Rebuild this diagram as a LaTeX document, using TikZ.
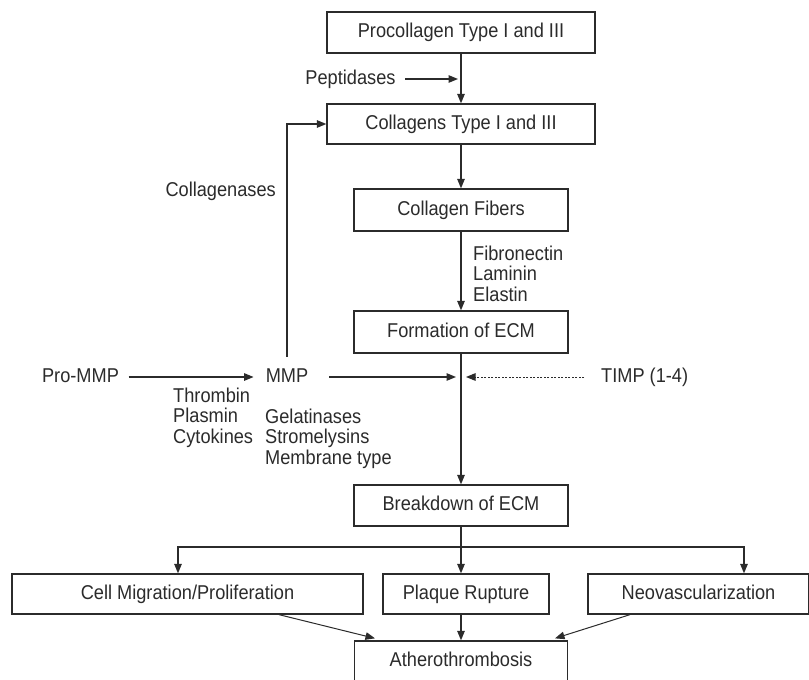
\documentclass[tikz,border=0pt]{standalone}
\usepackage{fontspec}
\setmainfont[FakeStretch=0.91]{Liberation Sans}
\usetikzlibrary{arrows.meta}
\definecolor{ink}{HTML}{2B2B2B}
\begin{document}
\begin{tikzpicture}[x=1pt,y=-1pt,
  every node/.style={text=ink, font=\fontsize{20}{20.5}\selectfont},
  box/.style={draw=ink, line width=1.3pt, inner sep=0pt, text height=14pt, text depth=4pt, minimum height=41pt},
  lbl/.style={inner sep=0pt, text height=14pt, text depth=4pt},
  multi/.style={inner sep=0pt, align=left, anchor=north west},
  conn/.style={draw=ink, line width=1.25pt},
  arr/.style={conn, -{Triangle[length=9.5pt,width=7.5pt]}},
  dotarr/.style={arr, line width=1pt, dash pattern=on 2pt off 1.5pt}
  ]
\fill[white] (0,0) rectangle (809,680);
\useasboundingbox (0,0) rectangle (809,680);

% boxes
\node[box, minimum width=268pt] (proc) at (461,32.5) {Procollagen Type I and III};
\node[box, minimum width=268pt, minimum height=40pt] (coll) at (461,124) {Collagens Type I and III};
\node[box, minimum width=214pt, minimum height=42pt] (fib) at (461,210) {Collagen Fibers};
\node[box, minimum width=214pt, minimum height=42pt] (form) at (461,332) {Formation of ECM};
\node[box, minimum width=214pt] (brk) at (461,505.5) {Breakdown of ECM};
\node[box, minimum width=351pt, minimum height=40pt] (cell) at (187.5,594) {Cell Migration/Proliferation};
\node[box, minimum width=166pt, minimum height=40pt] (plaq) at (466,594) {Plaque Rupture};
\node[box, minimum width=221pt, minimum height=40pt] (neo) at (698.5,594) {Neovascularization};
\node[box, minimum width=213pt] (ath) at (461,661.5) {Atherothrombosis};

% labels
\node[lbl] (pep) at (350.5,79) {Peptidases};
\node[lbl, anchor=east] (colg) at (276,191) {Collagenases};
\node[lbl] (pro) at (80.5,377) {Pro-MMP};
\node[lbl] (mmp) at (287,377) {MMP};
\node[lbl, anchor=west] (timp) at (601,377) {TIMP (1-4)};
\node[multi] (acts) at (173,387.5) {Thrombin\\Plasmin\\Cytokines};
\node[multi] (types) at (265,408.5) {Gelatinases\\Stromelysins\\Membrane type};
\node[multi] (ecm) at (473,245.5) {Fibronectin\\Laminin\\Elastin};

% junction points
\coordinate (pj) at (461,79);
\coordinate (jx) at (461,377);
\coordinate (split) at (461,547);

% connectors
\draw[arr] (proc) -- (coll);
\draw[arr, shorten <=9.5pt, shorten >=3pt] (pep) -- (pj);
\draw[arr] (coll) -- (fib);
\draw[arr] (fib) -- (form);
\draw[arr] (form) -- (brk);
\draw[arr] ([yshift=11pt]mmp.north) |- (coll.west);
\draw[arr, shorten <=9.5pt, shorten >=12pt] (pro) -- (mmp);
\draw[arr, shorten <=21pt, shorten >=5pt] (mmp) -- (jx);
\draw[dotarr, shorten <=17pt, shorten >=5pt] (timp) -- (jx);
\draw[conn] (brk) -- (split);
\draw[arr] (split) -| ([xshift=-9.5pt]cell.north);
\draw[arr] (split) -- (split |- plaq.north);
\draw[arr] (split) -| ([xshift=45.5pt]neo.north);
\draw[arr, line width=1pt] ([xshift=91.5pt]cell.south) -- ([xshift=-86pt,yshift=2pt]ath.north);
\draw[arr] (plaq.south -| split) -- (ath.north -| split);
\draw[arr, line width=1pt] ([xshift=-68.5pt]neo.south) -- ([xshift=94pt,yshift=2pt]ath.north);
\end{tikzpicture}
\end{document}
